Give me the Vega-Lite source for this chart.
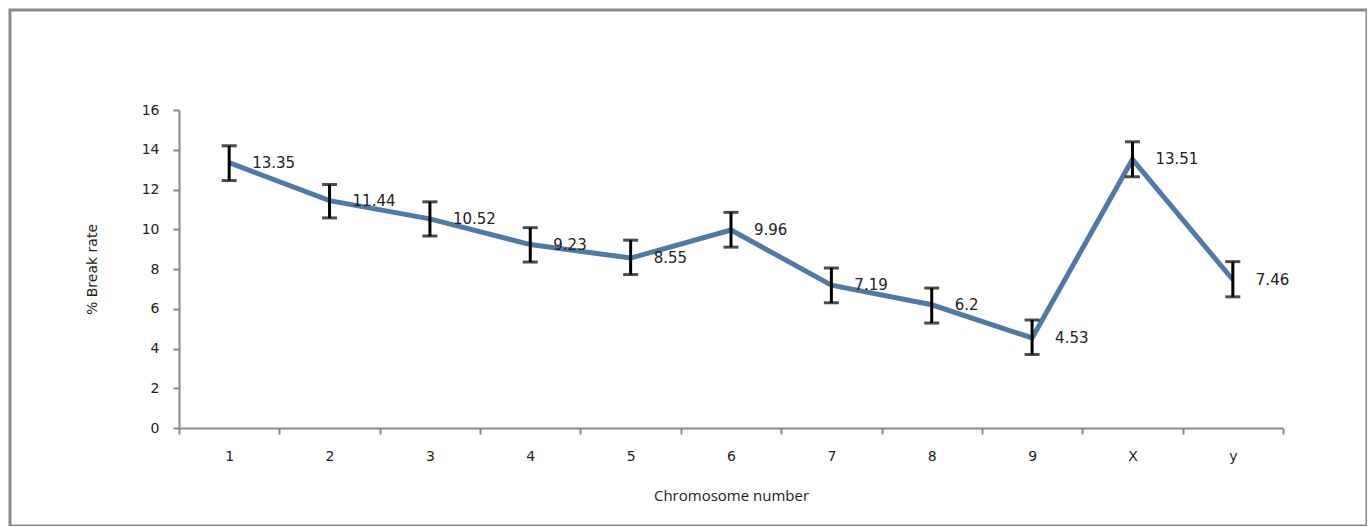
{
  "$schema": "https://vega.github.io/schema/vega-lite/v6.json",
  "width": 1357,
  "height": 516,
  "padding": {"left": 10, "top": 10, "right": 0, "bottom": 0},
  "autosize": {"type": "none"},
  "background": "#ffffff",
  "config": {
    "view": {"stroke": "#8a8a8a", "strokeWidth": 3},
    "font": "DejaVu Sans"
  },
  "data": {
    "values": [
      {"chr": "1", "value": 13.35, "lo": 12.45, "hi": 14.2, "label": "13.35"},
      {"chr": "2", "value": 11.44, "lo": 10.57, "hi": 12.25, "label": "11.44"},
      {"chr": "3", "value": 10.52, "lo": 9.66, "hi": 11.38, "label": "10.52"},
      {"chr": "4", "value": 9.23, "lo": 8.35, "hi": 10.08, "label": "9.23"},
      {"chr": "5", "value": 8.55, "lo": 7.72, "hi": 9.45, "label": "8.55"},
      {"chr": "6", "value": 9.96, "lo": 9.1, "hi": 10.85, "label": "9.96"},
      {"chr": "7", "value": 7.19, "lo": 6.3, "hi": 8.05, "label": "7.19"},
      {"chr": "8", "value": 6.2, "lo": 5.28, "hi": 7.04, "label": "6.2"},
      {"chr": "9", "value": 4.53, "lo": 3.7, "hi": 5.43, "label": "4.53"},
      {"chr": "X", "value": 13.51, "lo": 12.64, "hi": 14.4, "label": "13.51"},
      {"chr": "y", "value": 7.46, "lo": 6.6, "hi": 8.37, "label": "7.46"}
    ]
  },
  "encoding": {
    "x": {
      "field": "chr",
      "type": "ordinal",
      "sort": null,
      "scale": {"range": [169, 1273], "paddingInner": 0, "paddingOuter": 0},
      "axis": {
        "title": "Chromosome number",
        "titleFont": "Open Sans",
        "titleFontSize": 15,
        "titleFontWeight": "normal",
        "titleColor": "#222222",
        "titlePadding": 25,
        "labelAngle": 0,
        "labelFontSize": 14,
        "labelColor": "#222222",
        "labelPadding": 15,
        "tickBand": "extent",
        "tickSize": 6,
        "tickWidth": 2,
        "tickColor": "#8a8a8a",
        "domainColor": "#8a8a8a",
        "domainWidth": 2,
        "offset": -98,
        "grid": false
      }
    }
  },
  "layer": [
    {
      "mark": {"type": "line", "color": "#5079a6", "strokeWidth": 5},
      "encoding": {
        "y": {
          "field": "value",
          "type": "quantitative",
          "scale": {"domain": [0, 16], "range": [418, 100], "nice": false},
          "axis": {
            "title": "% Break rate",
            "titleFontSize": 14,
            "titleFontWeight": "normal",
            "titleColor": "#222222",
            "titlePadding": 42,
            "values": [0, 2, 4, 6, 8, 10, 12, 14, 16],
            "labelFontSize": 14,
            "labelColor": "#222222",
            "labelPadding": 14,
            "tickSize": 6,
            "tickWidth": 2,
            "tickColor": "#8a8a8a",
            "domainColor": "#8a8a8a",
            "domainWidth": 2,
            "offset": -169,
            "grid": false
          }
        }
      }
    },
    {
      "mark": {"type": "rule", "color": "#000000", "strokeWidth": 3},
      "encoding": {
        "y": {"field": "lo", "type": "quantitative"},
        "y2": {"field": "hi"}
      }
    },
    {
      "mark": {"type": "tick", "color": "#000000", "size": 15, "thickness": 3},
      "encoding": {
        "y": {"field": "lo", "type": "quantitative"}
      }
    },
    {
      "mark": {"type": "tick", "color": "#000000", "size": 15, "thickness": 3},
      "encoding": {
        "y": {"field": "hi", "type": "quantitative"}
      }
    },
    {
      "mark": {"type": "text", "align": "left", "baseline": "middle", "dx": 23, "fontSize": 15, "color": "#222222"},
      "encoding": {
        "y": {"field": "value", "type": "quantitative"},
        "text": {"field": "label"}
      }
    }
  ]
}
